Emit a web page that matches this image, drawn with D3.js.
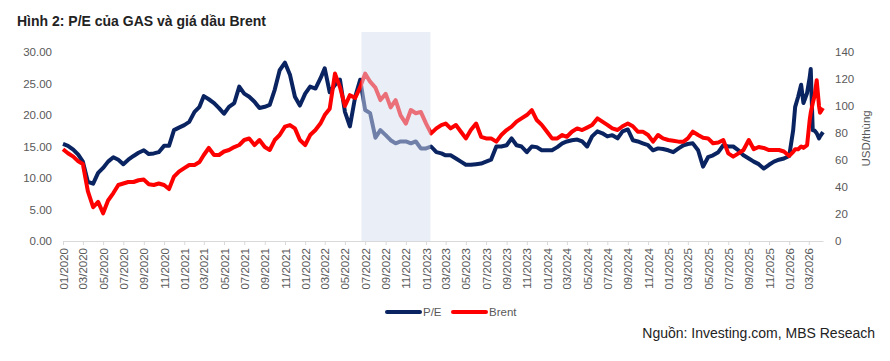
<!DOCTYPE html>
<html>
<head>
<meta charset="utf-8">
<script src="https://cdn.jsdelivr.net/npm/d3@7"></script>
<style>
    body { margin: 0; background: #fff; }
    svg { display: block; font-family: "Liberation Sans", Arial, sans-serif; }
</style>
</head>
<body>
<div id="chart"></div>
<script>
// data, about two points per month
var dates = [
    "2020-01-01","2020-01-16","2020-02-01","2020-02-16","2020-03-01","2020-03-16","2020-04-01","2020-04-16","2020-05-01","2020-05-16","2020-06-01","2020-06-16",
    "2020-07-01","2020-07-16","2020-08-01","2020-08-16","2020-09-01","2020-09-16","2020-10-01","2020-10-16","2020-11-01","2020-11-16","2020-12-01","2020-12-16",
    "2021-01-01","2021-01-16","2021-02-01","2021-02-16","2021-03-01","2021-03-16","2021-04-01","2021-04-16","2021-05-01","2021-05-16","2021-06-01","2021-06-16",
    "2021-07-01","2021-07-16","2021-08-01","2021-08-16","2021-09-01","2021-09-16","2021-10-01","2021-10-16","2021-11-01","2021-11-16","2021-12-01","2021-12-16",
    "2022-01-01","2022-01-16","2022-02-01","2022-02-16","2022-03-01","2022-03-16","2022-04-01","2022-04-16","2022-05-01","2022-05-16","2022-06-01","2022-06-16",
    "2022-07-01","2022-07-16","2022-08-01","2022-08-16","2022-09-01","2022-09-16","2022-10-01","2022-10-16","2022-11-01","2022-11-16","2022-12-01","2022-12-16",
    "2023-01-01","2023-01-16","2023-02-01","2023-02-16","2023-03-01","2023-03-16","2023-04-01","2023-04-16","2023-05-01","2023-05-16","2023-06-01","2023-06-16",
    "2023-07-01","2023-07-16","2023-08-01","2023-08-16","2023-09-01","2023-09-16","2023-10-01","2023-10-16","2023-11-01","2023-11-16","2023-12-01","2023-12-16",
    "2024-01-01","2024-01-16","2024-02-01","2024-02-16","2024-03-01","2024-03-16","2024-04-01","2024-04-16","2024-05-01","2024-05-16","2024-06-01","2024-06-16",
    "2024-07-01","2024-07-16","2024-08-01","2024-08-16","2024-09-01","2024-09-16","2024-10-01","2024-10-16","2024-11-01","2024-11-16","2024-12-01","2024-12-16",
    "2025-01-01","2025-01-16","2025-02-01","2025-02-16","2025-03-01","2025-03-16","2025-04-01","2025-04-16","2025-05-01","2025-05-16","2025-06-01","2025-06-16",
    "2025-07-01","2025-07-16","2025-08-01","2025-08-16","2025-09-01","2025-09-16","2025-10-01","2025-10-16","2025-11-01","2025-11-16","2025-12-01","2025-12-16",
    "2026-01-01","2026-01-13","2026-01-19","2026-01-28","2026-02-06","2026-02-13","2026-02-24","2026-03-04","2026-03-07","2026-03-13","2026-03-19","2026-03-25",
    "2026-04-01","2026-04-04","2026-04-13"
];

var pe = [
    15.4,15.1,14.5,13.7,12.6,9.4,9.1,10.8,11.6,12.6,13.3,12.9,12.2,12.9,13.5,14.0,14.4,13.8,13.9,14.1,15.1,15.1,17.6,18.0,
    18.4,18.9,20.5,21.3,23.0,22.5,21.9,21.1,20.2,21.3,21.9,24.5,23.4,22.9,22.1,21.1,21.3,21.6,24.0,27.1,28.3,26.4,22.9,21.5,
    23.4,24.5,24.2,25.8,27.4,23.6,24.8,25.6,20.5,18.2,22.9,25.6,20.8,20.3,16.4,17.6,16.8,16.0,15.5,15.8,15.8,15.5,15.8,14.7,
    14.7,15.0,14.1,13.9,13.6,13.6,13.1,12.6,12.1,12.1,12.2,12.3,12.6,12.9,15.0,15.0,15.2,16.3,15.2,15.0,14.1,15.0,14.9,14.4,
    14.4,14.4,14.9,15.5,15.8,16.0,16.1,15.8,15.0,16.6,17.4,17.1,16.6,16.8,16.3,17.4,17.7,16.0,15.8,15.5,15.2,14.4,14.7,14.6,
    14.4,14.1,14.7,15.2,15.4,15.5,14.4,11.8,13.3,13.6,14.1,15.2,15.0,15.0,14.4,13.6,13.1,12.6,12.2,11.5,12.1,12.6,12.9,13.1,
    13.5,17.6,21.3,22.9,24.8,21.9,23.5,26.0,27.3,17.6,17.5,17.1,16.3,16.6,17.3
];

var brent = [
    68,65,62.5,59,57,37,25,29,20.5,30,35.5,41.5,42.6,43.7,43.7,45,45.5,42,41.5,42.6,41.5,38.5,47.7,51.4,
    54,56.3,56.3,58.5,63.7,68.9,63.7,63.7,66.3,67.4,69.6,71.1,74.8,75.9,71.1,74.8,69.6,67.4,74.8,78.5,84.7,85.9,83.4,74.8,
    71.1,78.5,82.2,87,93.3,98,124,114,100,108,106,114,124,118,113.6,104.4,109,99,104.4,93,87,97,94.6,95.6,
    87,79.7,83.4,85.9,87,83.4,85.9,80.9,76,82.2,87,77.2,76,76,73.6,78.5,82.2,84.7,88.4,90.8,93.3,97,89.6,86,
    80.9,76,76,78.5,77.2,80.9,83.4,82.2,84,85.9,90.8,88.4,86,83.4,82.2,85,87,85,81,81,78.5,73.6,78.5,76,
    74.8,74.3,73.6,73.6,76,81,78.5,76.5,76,72.4,73,74.8,64.9,62.5,64.9,67.4,74.8,68,69.6,68.9,67.4,67.4,67.4,66.3,
    63,66,68,68,70,69,71,90,95,102,108,119,100,95,98.5
];

var leftTicks = [0, 5, 10, 15, 20, 25, 30];
var rightTicks = [0, 20, 40, 60, 80, 100, 120, 140];
var shadeRange = ["2022-06-20", "2023-01-14"];
var seriesNames = ["P/E", "Brent"];

var parse = d3.timeParse("%Y-%m-%d");
var rows = dates.map(function (d, i) {
    return { date: parse(d), pe: pe[i], brent: brent[i] };
});

var width = 890, height = 361;
var margin = { top: 52, right: 67, bottom: 120, left: 63 };

var svg = d3.select("#chart")
    .append("svg")
    .attr("width", width)
    .attr("height", height);

// scales
var x = d3.scaleTime()
    .domain([parse(dates[0]), parse(dates[dates.length - 1])])
    .range([margin.left, width - margin.right]);

var yL = d3.scaleLinear()
    .domain([0, 30])
    .range([height - margin.bottom, margin.top]);

var yR = d3.scaleLinear()
    .domain([0, 140])
    .range([height - margin.bottom, margin.top]);

// title
svg.append("text")
    .attr("x", 17)
    .attr("y", 26)
    .attr("font-size", "14px")
    .attr("font-weight", "bold")
    .attr("fill", "#222")
    .text("Hình 2: P/E của GAS và giá dầu Brent");

// x axis
var xAxis = svg.append("g")
    .attr("transform", "translate(0," + (height - margin.bottom) + ")")
    .call(d3.axisBottom(x)
        .ticks(d3.timeMonth.every(2))
        .tickFormat(d3.timeFormat("%m/%Y"))
        .tickSizeInner(4)
        .tickSizeOuter(0));
xAxis.select(".domain").attr("stroke", "#d9d9d9");
xAxis.selectAll(".tick line").attr("stroke", "#d9d9d9");
xAxis.selectAll(".tick text")
    .attr("transform", "rotate(-90)")
    .attr("text-anchor", "end")
    .attr("x", -7)
    .attr("y", 0)
    .attr("dy", "0.35em")
    .attr("font-size", "11.5px")
    .attr("font-family", "Liberation Sans, Arial, sans-serif")
    .attr("fill", "#595959");

// left axis
var leftAxis = svg.append("g")
    .attr("transform", "translate(" + margin.left + ",0)")
    .call(d3.axisLeft(yL).tickValues(leftTicks).tickFormat(d3.format(".2f")).tickSize(0).tickPadding(11));
leftAxis.select(".domain").remove();
leftAxis.selectAll("text")
    .attr("font-size", "11.5px")
    .attr("font-family", "Liberation Sans, Arial, sans-serif")
    .attr("fill", "#595959");

// right axis
var rightAxis = svg.append("g")
    .attr("transform", "translate(" + (width - margin.right) + ",0)")
    .call(d3.axisRight(yR).tickValues(rightTicks).tickSize(0).tickPadding(12));
rightAxis.select(".domain").remove();
rightAxis.selectAll("text")
    .attr("font-size", "11.5px")
    .attr("font-family", "Liberation Sans, Arial, sans-serif")
    .attr("fill", "#595959");

svg.append("text")
    .attr("transform", "translate(866," + yR(76) + ") rotate(-90)")
    .attr("text-anchor", "middle")
    .attr("dy", "0.35em")
    .attr("font-size", "11.5px")
    .attr("fill", "#595959")
    .text("USD/thùng");

// lines
var peLine = d3.line()
    .x(function (d) { return x(d.date); })
    .y(function (d) { return yL(d.pe); });
var brentLine = d3.line()
    .x(function (d) { return x(d.date); })
    .y(function (d) { return yR(d.brent); });

svg.append("path")
    .datum(rows)
    .attr("d", peLine)
    .attr("fill", "none")
    .attr("stroke", "#0a2361")
    .attr("stroke-width", 4)
    .attr("stroke-linejoin", "round");

svg.append("path")
    .datum(rows)
    .attr("d", brentLine)
    .attr("fill", "none")
    .attr("stroke", "#ff0000")
    .attr("stroke-width", 4)
    .attr("stroke-linejoin", "round");

// shaded period, drawn over the lines so they fade
svg.append("rect")
    .attr("x", x(parse(shadeRange[0])))
    .attr("y", 32)
    .attr("width", x(parse(shadeRange[1])) - x(parse(shadeRange[0])))
    .attr("height", height - margin.bottom - 32)
    .attr("fill", "#d6def0")
    .attr("opacity", 0.5);

// legend
var legendColors = ["#0a2361", "#ff0000"];
var legendX = [387, 453];
seriesNames.forEach(function (name, i) {
    svg.append("line")
        .attr("x1", legendX[i])
        .attr("x2", legendX[i] + 33)
        .attr("y1", 312)
        .attr("y2", 312)
        .attr("stroke", legendColors[i])
        .attr("stroke-width", 4)
        .attr("stroke-linecap", "round");
    svg.append("text")
        .attr("x", legendX[i] + 36)
        .attr("y", 316)
        .attr("font-size", "11.5px")
        .attr("fill", "#595959")
        .text(name);
});

// source
svg.append("text")
    .attr("x", 875)
    .attr("y", 338)
    .attr("text-anchor", "end")
    .attr("font-size", "14px")
    .attr("fill", "#222")
    .text("Nguồn: Investing.com, MBS Reseach");
</script>
</body>
</html>
